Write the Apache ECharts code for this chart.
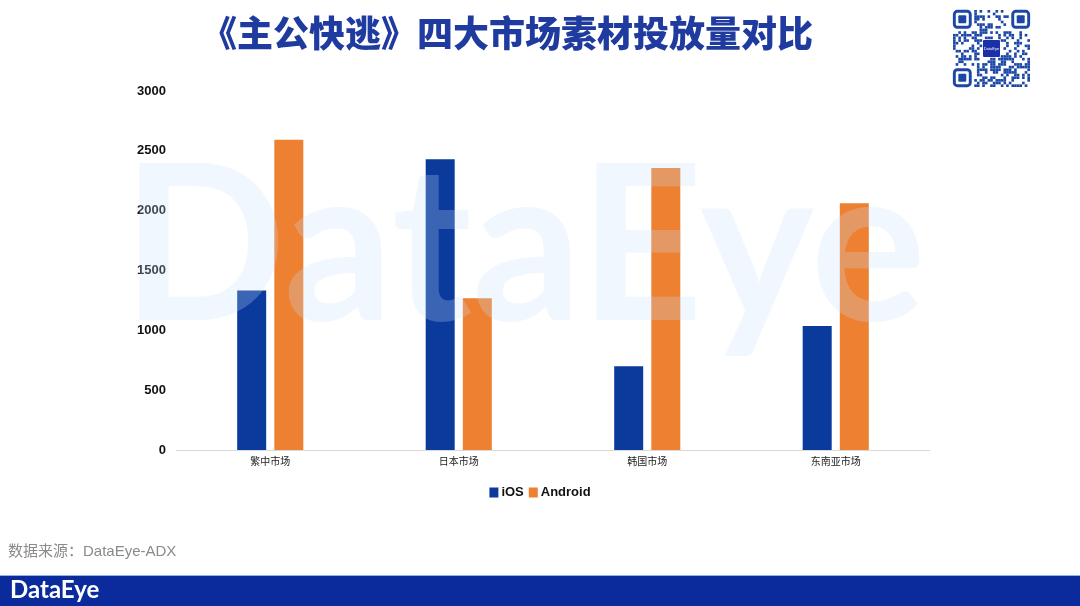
<!DOCTYPE html>
<html>
<head>
<meta charset="utf-8">
<script src="https://cdn.jsdelivr.net/npm/echarts@6/dist/echarts.min.js"></script>
<style>
html,body{margin:0;padding:0;background:#fff;}
#chart{width:1080px;height:606px;}
</style>
</head>
<body>
<div id="chart"></div>
<script>
const categories = ['繁中市场', '日本市场', '韩国市场', '东南亚市场'];
const iosValues = [1332, 2430, 700, 1036];
const androidValues = [2592, 1268, 2357, 2062];
const yTicks = { min: 0, max: 3000, interval: 500 };
const titleText = '《主公快逃》四大市场素材投放量对比';
const sourceText = '数据来源：DataEye-ADX';

// decorative QR-like pattern (deterministic hash, not data)
function qrElements(x0, y0, size) {
  const n = 29, m = size / n, els = [], col = '#1d47a6';
  function inFinder(i, j) {
    return (i < 8 && j < 8) || (i < 8 && j >= n - 8) || (i >= n - 8 && j < 8);
  }
  function inLogo(i, j) { return i >= 11 && i <= 17 && j >= 11 && j <= 17; }
  for (let i = 0; i < n; i++) {
    for (let j = 0; j < n; j++) {
      if (inFinder(i, j) || inLogo(i, j)) continue;
      const h = ((i * 73856093) ^ (j * 19349663) ^ (i * j * 83492791)) >>> 0;
      if (h % 100 < 42) {
        els.push({ type: 'rect', shape: { x: x0 + j * m, y: y0 + i * m, width: m, height: m }, style: { fill: col } });
      }
    }
  }
  const f = [[0, 0], [0, n - 7], [n - 7, 0]];
  f.forEach(([i, j]) => {
    els.push({ type: 'rect', shape: { x: x0 + (j + 0.5) * m, y: y0 + (i + 0.5) * m, width: 6 * m, height: 6 * m, r: 3 }, style: { fill: 'none', stroke: col, lineWidth: m * 1.1 } });
    els.push({ type: 'rect', shape: { x: x0 + (j + 2) * m, y: y0 + (i + 2) * m, width: 3 * m, height: 3 * m, r: 1 }, style: { fill: col } });
  });
  els.push({ type: 'rect', shape: { x: x0 + 11.3 * m, y: y0 + 11.3 * m, width: 6.4 * m, height: 6.4 * m, r: 1 }, style: { fill: '#1a2fa8' } });
  els.push({ type: 'text', x: x0 + 14.5 * m, y: y0 + 14.5 * m, style: { text: 'DataEye', fill: '#fff', fontSize: 4, align: 'center', verticalAlign: 'middle' } });
  return els;
}

const chart = echarts.init(document.getElementById('chart'));
chart.setOption({
  backgroundColor: '#ffffff',
  animation: false,
  title: {
    text: titleText,
    left: 502, top: 10, textAlign: 'center',
    textStyle: { fontFamily: 'Noto Sans CJK SC', fontWeight: 900, fontSize: 36, color: '#1f3b9f' }
  },
  legend: {
    data: ['iOS', 'Android'],
    top: 481, left: 'center',
    itemWidth: 9, itemHeight: 10, itemGap: 5,
    icon: 'rect',
    textStyle: { fontFamily: 'Liberation Sans', fontWeight: 'bold', fontSize: 13, color: '#111', padding: [0, 0, 0, -2] }
  },
  grid: { left: 176, right: 150, top: 91, bottom: 156 },
  xAxis: {
    type: 'category',
    data: categories,
    axisLine: { show: true, lineStyle: { color: '#d9d9d9', width: 1 } },
    axisTick: { show: false },
    axisLabel: { fontFamily: 'Noto Sans CJK SC', fontSize: 10, color: '#222', margin: 6 }
  },
  yAxis: {
    type: 'value',
    min: yTicks.min, max: yTicks.max, interval: yTicks.interval,
    axisLine: { show: false }, axisTick: { show: false },
    splitLine: { show: false },
    axisLabel: { fontFamily: 'Liberation Sans', fontWeight: 'bold', fontSize: 13, color: '#111', margin: 10,
      formatter: v => String(v) }
  },
  series: [
    { name: 'iOS', type: 'bar', data: iosValues, barWidth: 29, barGap: '28%', itemStyle: { color: '#0a3a9c' } },
    { name: 'Android', type: 'bar', data: androidValues, barWidth: 29, itemStyle: { color: '#ee8131' } }
  ],
  graphic: [
    { type: 'text', z: 100, silent: true, left: 122, top: 142,
      style: { text: 'DataEye', fontFamily: 'Lato', fontWeight: 'bold', fontSize: 216, fill: 'rgba(200,224,250,0.26)' } },
    { type: 'text', left: 8, top: 544, style: { text: sourceText, fontFamily: 'Liberation Sans, Noto Sans CJK SC', fontSize: 15, fill: '#8a8a8a' } },
    { type: 'rect', left: 0, top: 575, shape: { width: 1080, height: 31 }, style: { fill: '#0b2b9d' } },
    { type: 'rect', left: 0, top: 575, shape: { width: 1080, height: 1 }, style: { fill: '#8fb2f0' } },
    { type: 'text', left: 10, top: 578, style: { text: 'DataEye', fontFamily: 'Lato', fontWeight: 'bold', fontSize: 24, fill: '#ffffff' } },
    { type: 'group', children: qrElements(953, 10, 77) }
  ]
});
</script>
</body>
</html>
